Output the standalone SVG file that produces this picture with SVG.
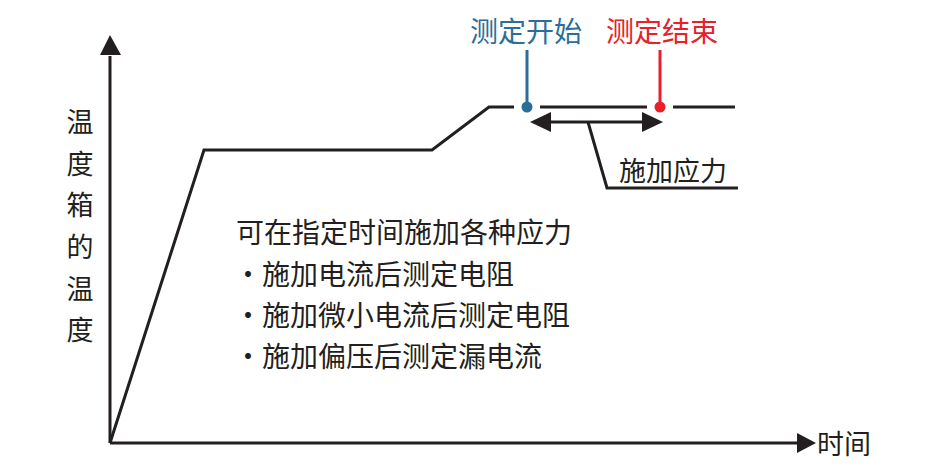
<svg xmlns="http://www.w3.org/2000/svg" width="931" height="468" viewBox="0 0 931 468">
<style>
text{font-family:"Noto Sans CJK SC","Noto Sans",sans-serif;fill:#231f20;}
.ln{fill:none;stroke:#231f20;stroke-width:3;}
.t{font-size:27px;}
.b{font-size:28px;}
</style>
<rect width="931" height="468" fill="#fff"/>
<g id="axes">
<path class="ln" d="M110,443 L110,56" />
<path d="M100,55 L110,35 L121,55 Z" fill="#231f20"/>
<path class="ln" d="M110,443 L797,443" />
<path d="M797,433 L816,443 L797,453 Z" fill="#231f20"/>
</g>
<g id="curve">
<path class="ln" d="M110,443 L204,150 L432,150 L489,107 L514,107"/>
<path class="ln" d="M540,107 L647,107"/>
<path class="ln" d="M673,107 L735,107"/>
</g>
<g id="start-marker">
<line x1="527" y1="50" x2="527" y2="106" stroke="#2a6e99" stroke-width="3"/>
<circle cx="527" cy="107" r="5.5" fill="#2a6e99"/>
<text x="470" y="42" font-size="28" style="fill:#2a6e99">测定开始</text>
</g>
<g id="end-marker">
<line x1="660" y1="50" x2="660" y2="106" stroke="#e8202a" stroke-width="3"/>
<circle cx="660" cy="107" r="5.5" fill="#e8202a"/>
<text x="606" y="42" font-size="28" style="fill:#e8202a">测定结束</text>
</g>
<g id="connectors">
<line class="ln" x1="548" y1="122" x2="645" y2="122"/>
<path d="M551,112 L530,122 L551,132 Z" fill="#231f20"/>
<path d="M642,112 L663,122 L642,132 Z" fill="#231f20"/>
<path class="ln" d="M588,122 L607,188 L738,188"/>
</g>
<g id="stress-label">
<text class="t" x="619" y="181">施加应力</text>
</g>
<g id="y-label">
<text class="t" x="80" y="132" text-anchor="middle">温</text>
<text class="t" x="80" y="174" text-anchor="middle">度</text>
<text class="t" x="80" y="215" text-anchor="middle">箱</text>
<text class="t" x="80" y="257" text-anchor="middle">的</text>
<text class="t" x="80" y="299" text-anchor="middle">温</text>
<text class="t" x="80" y="340" text-anchor="middle">度</text>
</g>
<g id="x-label">
<text class="t" x="817" y="454">时间</text>
</g>
<g id="notes">
<text class="b" x="236" y="243">可在指定时间施加各种应力</text>
<text class="b" x="234" y="285">・施加电流后测定电阻</text>
<text class="b" x="234" y="326">・施加微小电流后测定电阻</text>
<text class="b" x="234" y="367">・施加偏压后测定漏电流</text>
</g>
</svg>
